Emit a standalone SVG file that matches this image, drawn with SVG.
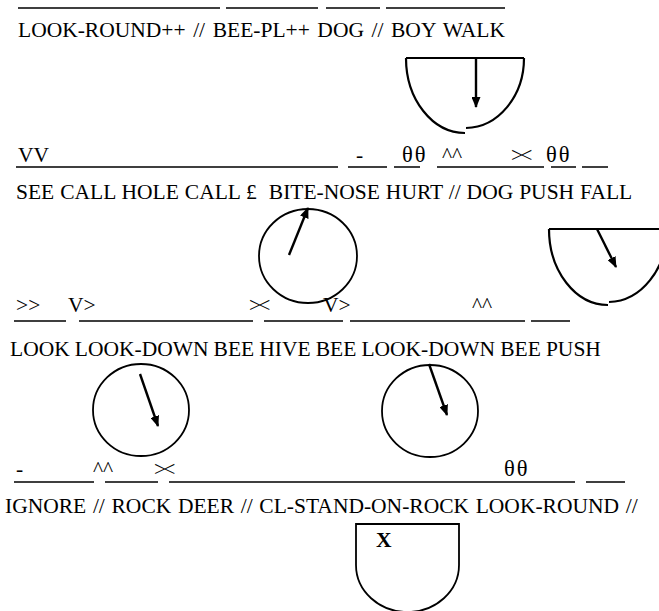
<svg xmlns="http://www.w3.org/2000/svg" width="659" height="611" viewBox="0 0 659 611">
<defs>
<style>
.t{font-family:"Liberation Serif","Times New Roman",serif;font-size:21.5px;fill:#000}
.th{letter-spacing:2px;font-size:22.5px}
.x{letter-spacing:-3px}
.u{stroke:#000;stroke-width:1.5;fill:none}
.s{stroke:#000;stroke-width:2.2;fill:none}
.c{stroke:#000;stroke-width:1.8;fill:none}
.a{stroke:#000;stroke-width:2.4;fill:none;marker-end:url(#ah)}
</style>
<marker id="ah" markerUnits="userSpaceOnUse" markerWidth="11" markerHeight="9" refX="10" refY="4.5" orient="auto">
<path d="M0,0 L11,4.5 L0,9 z" fill="#000"/>
</marker>
</defs>
<rect width="659" height="611" fill="#fff"/>

<g id="row1">
<path class="u" d="M18,8H220M226,8H318M326,8H380M386,8H505"/>
<text class="t" x="18" y="37" word-spacing="2.2">LOOK-ROUND++ // BEE-PL++ DOG // BOY WALK</text>
<text class="t" x="18" y="162">VV</text>
<text class="t" x="356" y="162">-</text>
<text class="t th" x="402" y="162">θθ</text>
<text class="t" x="442" y="162">^^</text>
<text class="t x" x="511" y="162">&gt;&lt;</text>
<text class="t th" x="546" y="162">θθ</text>
</g>

<g id="semi1">
<path class="s" d="M406,58H524M406,58A59,75 0 0,0 465,133M524,58A59,70 0 0,1 466,128"/>
</g>

<g id="row2">
<path class="u" d="M16,167H338M348,167H387M394,167H420M437,167H544M551,167H576M582,167H608"/>
<text class="t" x="16" y="199" word-spacing="0.6">SEE CALL HOLE CALL £&#160; BITE-NOSE HURT // DOG PUSH FALL</text>
<text class="t" x="16" y="312">&gt;&gt;</text>
<text class="t" x="68" y="312">V&gt;</text>
<text class="t x" x="249" y="312">&gt;&lt;</text>
<text class="t" x="323" y="312">V&gt;</text>
<text class="t" x="472" y="312">^^</text>
</g>

<g id="circle2">
<ellipse class="c" cx="308" cy="256" rx="49" ry="47"/>
</g>

<g id="semi2">
<path class="s" d="M549,229H667M549,229A59,76 0 0,0 608,305M667,229A59,73 0 0,1 609,302"/>
</g>

<g id="row3">
<path class="u" d="M14,321H66M79,321H253M264,321H343M350,321H525M531,321H570"/>
<text class="t" x="10" y="356" word-spacing="-0.3">LOOK LOOK-DOWN BEE HIVE BEE LOOK-DOWN BEE PUSH</text>
<text class="t" x="16" y="476">-</text>
<text class="t" x="93" y="476">^^</text>
<text class="t x" x="154" y="476">&gt;&lt;</text>
<text class="t th" x="504" y="476">θθ</text>
</g>

<g id="circle3">
<ellipse class="c" cx="141" cy="410" rx="48" ry="46"/>
</g>

<g id="circle4">
<ellipse class="c" cx="430" cy="411" rx="48" ry="46"/>
</g>

<g id="row4">
<path class="u" d="M14,482H94M105,482H158M169,482H575M586,482H625"/>
<text class="t" x="5" y="513" word-spacing="1.3">IGNORE // ROCK DEER // CL-STAND-ON-ROCK LOOK-ROUND //</text>
</g>

<g id="shield">
<path class="c" d="M356,524H459V565A51.5,47 0 0,1 407.5,612A51.5,47 0 0,1 356,565Z"/>
<text class="t" x="376" y="547" font-weight="bold">X</text>
</g>

<g id="connectors">
<line class="a" x1="476" y1="58" x2="476" y2="107"/>
<line class="a" x1="289" y1="255" x2="308" y2="208"/>
<line class="a" x1="597" y1="229" x2="616" y2="267"/>
<line class="a" x1="140" y1="374" x2="158" y2="426"/>
<line class="a" x1="429" y1="364" x2="447" y2="415"/>
</g>
</svg>
